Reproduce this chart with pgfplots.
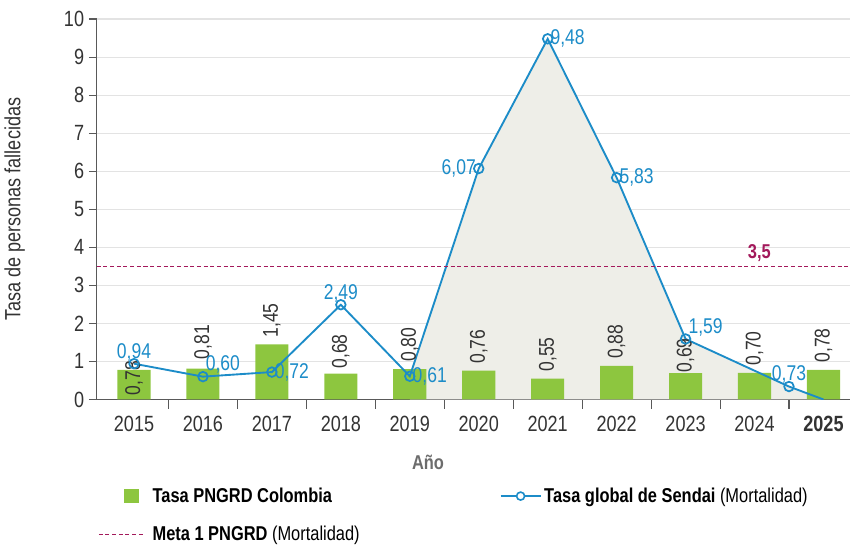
\documentclass[border=0pt]{standalone}
\usepackage{fontspec}
\IfFontExistsTF{Liberation Sans Narrow}{\setmainfont{Liberation Sans Narrow}}{\setmainfont{Liberation Sans}[FakeStretch=0.82]}
\usepackage{pgfplots}
\pgfplotsset{compat=1.18}
\usepackage{pgfplotstable}
\definecolor{barg}{HTML}{8DC63F}
\definecolor{lblue}{HTML}{1C8CC8}
\definecolor{metac}{HTML}{A3195B}
\definecolor{fillg}{HTML}{EEEEE8}
\definecolor{txt}{HTML}{333333}

\pgfplotstableread{
x y
0 0.78
1 0.81
2 1.45
3 0.68
4 0.80
5 0.76
6 0.55
7 0.88
8 0.69
9 0.70
10 0.78
}\bars

\pgfplotstableread{
x y
0 0.94
1 0.60
2 0.72
3 2.49
4 0.61
5 6.07
6 9.48
7 5.83
8 1.59
9.5 0.34
}\sendai

\pgfplotsset{
  lbl/.style={draw=none, mark=none, forget plot, point meta=explicit symbolic,
    nodes near coords,
    nodes near coords style={anchor=#1, inner sep=2pt, font=\fontsize{16}{18}\selectfont, text=lblue}},
  blbl/.style={draw=none, mark=none, forget plot, point meta=explicit symbolic,
    nodes near coords,
    nodes near coords style={rotate=90, anchor=west, inner sep=3pt, font=\fontsize{16}{18}\selectfont, text=txt}},
}

\begin{document}
\begin{tikzpicture}
\begin{axis}[
  width=564pt, height=285pt, scale only axis,
  xmin=-0.54, xmax=10.38, ymin=0, ymax=10,
  axis lines*=left,
  axis line style={draw=gray!70!black, thick},
  xtick={0,1,2,3,4,5,6,7,8,9,10},
  xticklabels={2015,2016,2017,2018,2019,2020,2021,2022,2023,2024,\textbf{2025}},
  minor xtick={0.5,1.5,2.5,3.5,4.5,5.5,6.5,7.5,8.5,9.5},
  ytick={0,1,2,3,4,5,6,7,8,9,10},
  tick align=outside,
  x tick style={draw=none},
  minor x tick style={draw=gray!70!black, thick},
  minor tick length=7pt,
  y tick style={draw=gray!70!black, thick},
  major tick length=6pt,
  ymajorgrids, grid style={gray!22, thick},
  tick label style={font=\fontsize{16.5}{18}\selectfont, text=txt},
  xticklabel style={yshift=-3pt},
  /pgf/number format/assume math mode=true,
  xlabel={\textbf{Año}},
  ylabel={Tasa de personas fallecidas},
  every axis x label/.style={at={(axis description cs:0.44,0)}, anchor=center, yshift=-47pt, font=\fontsize{15}{17}\selectfont, text=gray!85!black},
  every axis y label/.style={at={(axis description cs:-0.109,0.5)}, rotate=90, anchor=center, font=\fontsize{16.5}{18}\selectfont, text=txt},
  legend columns=2,
  legend cell align=left,
  legend style={at={(axis description cs:0,0)}, anchor=north west, xshift=-2pt, yshift=-62pt,
    draw=none, fill=none, font=\fontsize{15}{17}\selectfont,
    row sep=12pt},
]
\addplot[fill=fillg, draw=none, forget plot] coordinates {(4,0) (4,0.61) (5,6.07) (6,9.48) (7,5.83) (8,1.59) (9.5,0.34) (10,0)} \closedcycle;

\addplot[ybar, bar width=0.48, fill=barg, draw=none,
  legend image code/.code={\fill[barg] (19pt,-5.5pt) rectangle (30pt,5.5pt);}
] table[x=x,y=y]{\bars};
\addlegendentry{\makebox[258pt][l]{\textbf{Tasa PNGRD Colombia}}}

\addplot[blbl] coordinates {(0,0.0) [0,78] (1,0.95) [0,81] (2,1.52) [1,45] (3,0.70) [0,68] (4,0.88) [0,80] (5,0.83) [0,76] (6,0.62) [0,55] (7,0.96) [0,88] (8,0.60) [0,69] (9,0.78) [0,70] (10,0.86) [0,78]};

\addplot[lblue, line width=1.4pt, mark=o, mark size=3.6pt, mark options={fill=white, solid, line width=1.3pt},
  legend image code/.code={\draw[lblue, line width=1.4pt] (0pt,0pt) -- (30pt,0pt); \draw[lblue, line width=1.2pt, fill=white] (15pt,0pt) circle (3pt);}
] table[x=x,y=y]{\sendai};
\addlegendentry{\textbf{Tasa global de Sendai} (Mortalidad)}

\addplot[lblue, line width=1.4pt, forget plot] coordinates {(9.5,0.34) (10,0)};

\addplot[lbl=south] coordinates {(0,0.94) [0,94] (3,2.49) [2,49] (9.5,0.34) [0,73]};
\addplot[lbl=south west] coordinates {(1,0.60) [0,60] (8,1.59) [1,59]};
\addplot[lbl=west] coordinates {(2,0.72) [0,72] (4,0.61) [0,61] (6,9.48) [9,48] (7,5.83) [5,83]};
\addplot[lbl=east] coordinates {(5,6.07) [6,07]};

\addplot[metac, densely dashed, semithick,
  legend image code/.code={\path (0pt,0pt) (38pt,0pt); \draw[metac, densely dashed, semithick] (0pt,0pt) -- (34pt,0pt);}
] coordinates {(-0.54,3.5) (10.38,3.5)} node[pos=0.88, above, font=\bfseries\fontsize{15}{17}\selectfont, text=metac] {3,5};
\addlegendentry{\textbf{Meta 1 PNGRD} (Mortalidad)}
\end{axis}
\path ([xshift=4pt]current axis.east);
\path ([yshift=14.25pt]current axis.north);
\end{tikzpicture}
\end{document}
